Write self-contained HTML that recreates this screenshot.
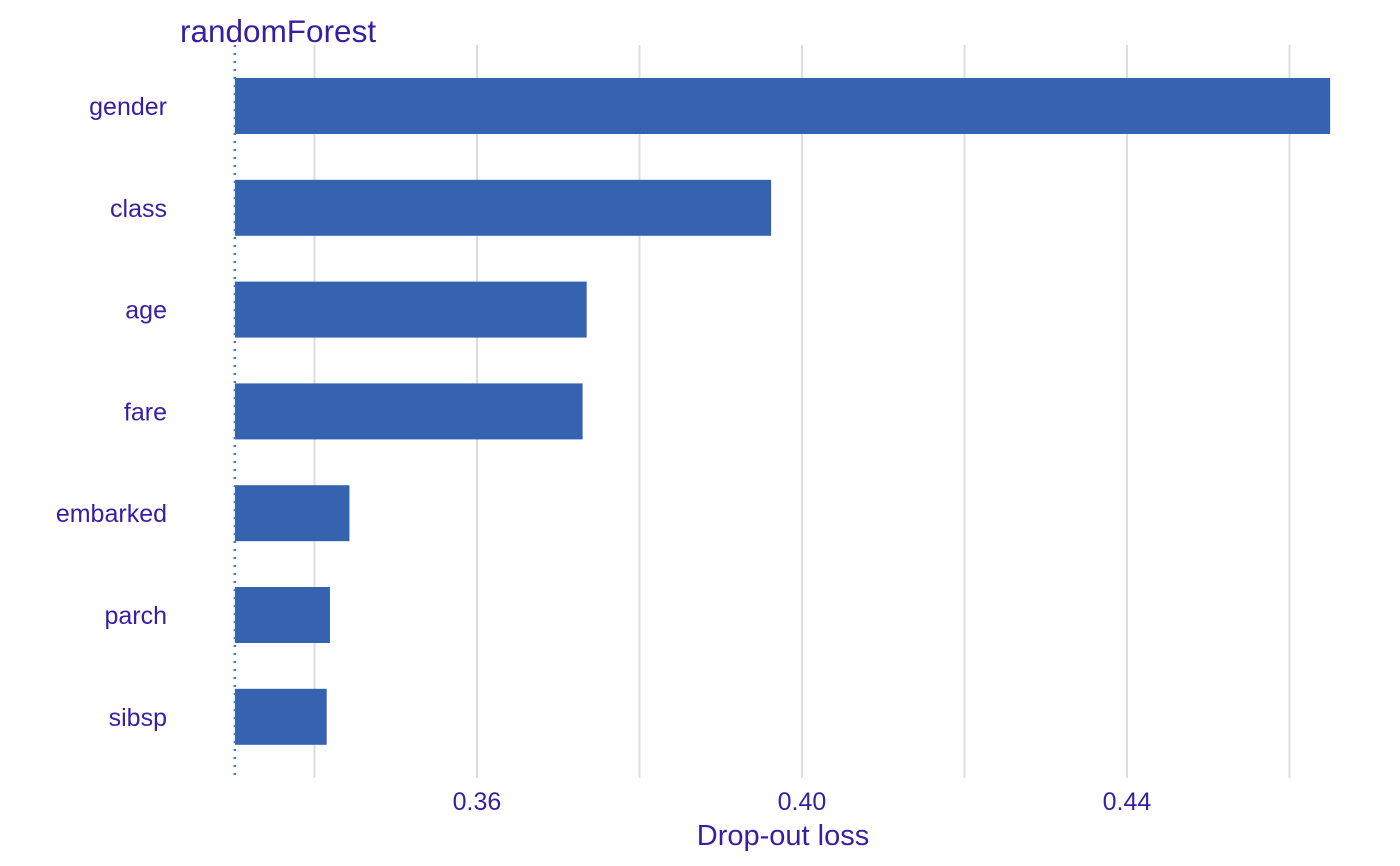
<!DOCTYPE html>
<html><head><meta charset="utf-8"><style>
body{margin:0;background:#fff;}
svg{display:block;font-family:"Liberation Sans",Arial,sans-serif;}
</style></head><body>
<svg id="chart" width="1400" height="866">
<text x="180" y="42" font-size="31.5" fill="#371ea3">randomForest</text>
<g id="grid"></g><g id="bars"></g><g id="ylabels"></g><g id="xlabels"></g>
<text x="783" y="845" font-size="29" fill="#371ea3" text-anchor="middle">Drop-out loss</text>
</svg>
<script>
const categories=["gender","class","age","fare","embarked","parch","sibsp"];
const values=[0.4650,0.3962,0.3735,0.3730,0.3443,0.3419,0.3415];
const baseline=0.3302;
const majorTicks=[0.36,0.40,0.44];
const minorTicks=[0.34,0.38,0.42,0.46];
const tickLabels=["0.36","0.40","0.44"];
const NS="http://www.w3.org/2000/svg";
const x=v=>477+(v-0.36)*8125;
const yc=i=>106+i*101.8;
function mk(t,a,p){const e=document.createElementNS(NS,t);for(const k in a)e.setAttribute(k,a[k]);p.appendChild(e);return e;}
const grid=document.getElementById('grid'),bars=document.getElementById('bars'),yl=document.getElementById('ylabels'),xl=document.getElementById('xlabels');
majorTicks.concat(minorTicks).forEach(t=>{
 const l=mk('line',{x1:x(t),x2:x(t),y1:45,y2:778,stroke:'#dddddd','stroke-width':2},grid);
 
 
});
majorTicks.forEach((t,i)=>{
 const e=mk('text',{x:x(t),y:810,'font-size':25,fill:'#371ea3','text-anchor':'middle'},xl);
 e.textContent=tickLabels[i];
 
 
});
categories.forEach((c,i)=>{
 const r=mk('rect',{x:x(baseline),y:yc(i)-28,width:x(values[i])-x(baseline),height:56,fill:'#3563b0'},bars);
 
 
 const t=mk('text',{x:167,y:yc(i)+9,'font-size':25,fill:'#371ea3','text-anchor':'end'},yl);
 t.textContent=c;
 
 
});
const bl=mk('line',{x1:x(baseline),x2:x(baseline),y1:45,y2:778,stroke:'#4378bf','stroke-width':2.5,'stroke-dasharray':'2,6'},document.getElementById('chart'));


</script>
</body></html>
